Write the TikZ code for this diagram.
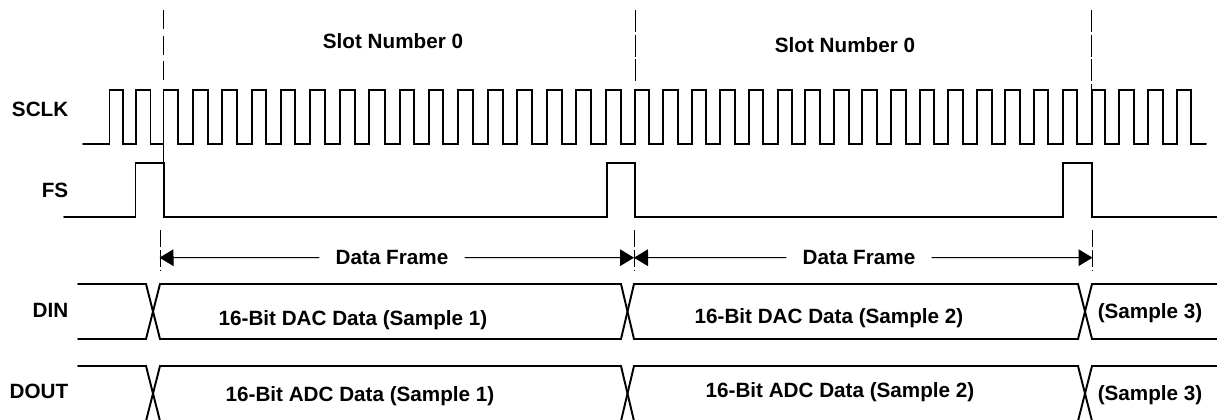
\documentclass[tikz,border=0pt]{standalone}
\usepackage{fontspec}
\setmainfont{Liberation Sans}
\usetikzlibrary{arrows.meta}

\tikzset{
    wave/.style={line width=1.45pt,line cap=round,line join=miter},
    marker/.style={line width=0.7pt,dash pattern=on 14.25pt off 5pt},
    markerlong/.style={line width=0.7pt,dash pattern=on 16.5pt off 2pt},
    span/.style={line width=0.75pt,{Triangle[length=10.5pt,width=12.5pt]}-},
    spanend/.style={line width=0.75pt,-{Triangle[length=10.5pt,width=12.5pt]}},
    lbl/.style={font=\bfseries\fontsize{15.5}{17}\selectfont,inner sep=0pt},
    framelbl/.style={lbl,inner xsep=12pt}
}

\begin{document}
\begin{tikzpicture}[x=0.75pt,y=-0.75pt]
        \useasboundingbox (0,0) rectangle (1217,419);

        % Marcas de trama
        \draw[marker] (163.3,10) -- (163.3,80);
        \draw[line width=0.55pt] (163.6,144) -- (163.6,162);
        \draw[markerlong] (635,10) -- (635,84);
        \draw[markerlong] (1091.5,10) -- (1091.5,90);
        \foreach \x in {160,634,1092} {
            \draw[line width=0.7pt,dash pattern=on 13pt off 2pt] (\x,230) -- (\x,271);
        }

        % Reloj
        \draw[wave] (83,144.3) foreach \r/\f in {
            109.5/123,136/150.5,163.5/178,193/208,222/237,252/266,281/295,310/325,
            340/355,369/385,400/414,429/443,458/473,488/503,517/532,547/562,
            576/591,606/621,635/649,663/678,692/706,720/735,749/763,778/792,
            805/820,834/849,862/877,891/906,920/934,948/963,977/992,1005/1020,
            1034/1048,1063/1077,1092/1105,1119/1134,1148/1163,1177/1191} {
            -- (\r,144.3) -- (\r,90) -- (\f,90) -- (\f,144.3)
        } -- (1206,144.3);

        % Sincronismo
        \draw[wave] (64,216.7) foreach \r/\f in {135.5/164,606.7/635,1063/1092} {
            -- (\r,216.7) -- (\r,162.7) -- (\f,162.7) -- (\f,216.7)
        } -- (1217,216.7);

        % Buses de datos
        \foreach \top/\bot in {284/339,366/421} {
            \draw[wave] (78,\top) -- (146,\top) -- (160,\bot) -- (621,\bot) -- (634,\top)
                -- (1078,\top) -- (1092,\bot) -- (1217,\bot);
            \draw[wave] (78,\bot) -- (146,\bot) -- (160,\top) -- (621,\top) -- (634,\bot)
                -- (1078,\bot) -- (1092,\top) -- (1217,\top);
        }

        % Cotas de trama
        \node[framelbl] (frameA) at (392,257.5) {Data Frame};
        \node[framelbl] (frameB) at (859,257.5) {Data Frame};
        \coordinate (frameAl) at (159.5,257.7);
        \coordinate (frameAr) at (634,257.7);
        \coordinate (frameBl) at (634,257.7);
        \coordinate (frameBr) at (1092.5,257.7);
        \draw[span] (frameAl) -- (frameA.west);
        \draw[spanend] (frameA.east) -- (frameAr);
        \draw[span] (frameBl) -- (frameB.west);
        \draw[spanend] (frameB.east) -- (frameBr);

        % Rotulos
        \node[lbl] (slotA) at (393,41) {Slot Number 0};
        \node[lbl] (slotB) at (845,45) {Slot Number 0};
        \node[lbl,anchor=east] (sclk) at (68.5,109) {SCLK};
        \node[lbl,anchor=east] (fs) at (68.5,190) {FS};
        \node[lbl,anchor=east] (din) at (68.5,310) {DIN};
        \node[lbl,anchor=east] (dout) at (68.5,391) {DOUT};
        \node[lbl] (dinA) at (353,320) {16-Bit DAC Data (Sample 1)};
        \node[lbl] (dinB) at (829,318) {16-Bit DAC Data (Sample 2)};
        \node[lbl] (dinC) at (1150,313.5) {(Sample 3)};
        \node[lbl] (doutA) at (360,396) {16-Bit ADC Data (Sample 1)};
        \node[lbl] (doutB) at (840,392) {16-Bit ADC Data (Sample 2)};
        \node[lbl] (doutC) at (1150,395.5) {(Sample 3)};
    \end{tikzpicture}
\end{document}
